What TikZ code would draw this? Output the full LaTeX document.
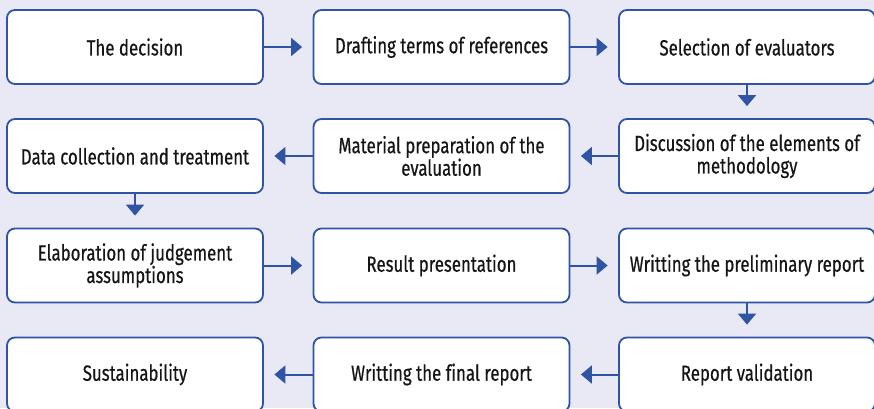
\documentclass[tikz,border=0pt]{standalone}
\usepackage{fontspec}
\setmainfont{Fira Sans}[FakeStretch=0.765, FakeBold=0.5, Ligatures=NoCommon]
\usetikzlibrary{arrows.meta}
\definecolor{pagebg}{HTML}{E9E9F5}
\definecolor{stepblue}{HTML}{2F54A3}
\definecolor{steptext}{HTML}{151515}
\tikzset{
  stepbox/.style={draw=stepblue, line width=1.8pt, fill=white, rounded corners=8pt,
    minimum width=256pt, minimum height=74pt, inner sep=0pt,
    align=center, text=steptext,
    font=\fontsize{22}{22.5}\selectfont},
  flow/.style={draw=stepblue, line width=2pt,
    -{Triangle[length=11pt,width=18pt]}},
  hflow/.style={flow, shorten >=10.5pt},
  vflow/.style={flow, shorten >=12pt}
}
\begin{document}
\begin{tikzpicture}[x=1pt,y=-1pt]
  \useasboundingbox (0,0) rectangle (874,408);
  \clip (0,0) rectangle (874,408);
  \fill[pagebg] (0,0) rectangle (874,408);

  % row 1
  \node[stepbox] (s1)  at (135,47)    {The decision};
  \node[stepbox] (s2)  at (441.5,47)  {Drafting terms of references};
  \node[stepbox] (s3)  at (747,47)    {Selection of evaluators};
  % row 2
  \node[stepbox] (s4)  at (747,156)   {Discussion of the elements of\\methodology};
  \node[stepbox] (s5)  at (441.5,156) {Material preparation of the\\evaluation};
  \node[stepbox] (s6)  at (135,156)   {Data collection and treatment};
  % row 3
  \node[stepbox] (s7)  at (135,265.5)   {Elaboration of judgement\\assumptions};
  \node[stepbox] (s8)  at (441.5,265.5) {Result presentation};
  \node[stepbox] (s9)  at (747,265.5)   {Writting the preliminary report};
  % row 4
  \node[stepbox] (s10) at (747,374.5)   {Report validation};
  \node[stepbox] (s11) at (441.5,374.5) {Writting the final report};
  \node[stepbox] (s12) at (135,374.5)   {Sustainability};

  % connectors
  \draw[hflow] (s1.east) -- (s2.west);
  \draw[hflow] (s2.east) -- (s3.west);
  \draw[vflow] (s3.south) -- (s4.north);
  \draw[hflow] (s4.west) -- (s5.east);
  \draw[hflow] (s5.west) -- (s6.east);
  \draw[vflow] (s6.south) -- (s7.north);
  \draw[hflow] (s7.east) -- (s8.west);
  \draw[hflow] (s8.east) -- (s9.west);
  \draw[vflow] (s9.south) -- (s10.north);
  \draw[hflow] (s10.west) -- (s11.east);
  \draw[hflow] (s11.west) -- (s12.east);
\end{tikzpicture}
\end{document}
